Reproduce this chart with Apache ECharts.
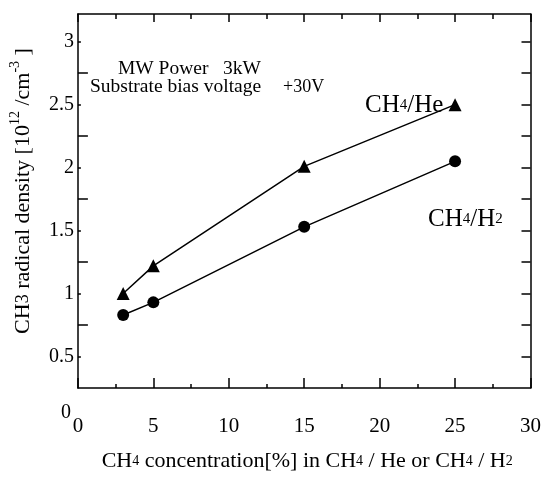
<!DOCTYPE html>
<html>
<head>
<meta charset="utf-8">
<script src="https://cdn.jsdelivr.net/npm/echarts@6/dist/echarts.min.js"></script>
<style>html,body{margin:0;padding:0;background:#fff;}#c{width:544px;height:477px;}</style>
</head>
<body>
<div id="c"></div>
<script>
const heX = [3, 5, 15, 25];
const heY = [1.0, 1.22, 2.01, 2.50];
const h2X = [3, 5, 15, 25];
const h2Y = [0.83, 0.93, 1.53, 2.05];
const yLabelValues = [0.5, 1, 1.5, 2, 2.5, 3];
const yLongTicks = [0.75, 1.25, 1.75, 2.25, 2.75];
const yRightTicks = [0.5, 0.75, 1, 1.25, 1.5, 1.75, 2, 2.25, 2.5, 2.75, 3];

const F = 'Liberation Serif, Times New Roman, serif';
const chart = echarts.init(document.getElementById('c'));
const black = '#000';
chart.setOption({
  backgroundColor: '#fff',
  animation: false,
  grid: { left: 77, right: 11, top: 14, bottom: 86 },
  xAxis: [{
    type: 'value', position: 'bottom', min: 0, max: 30, interval: 5,
    axisLine: { lineStyle: { color: black, width: 1.5 } },
    axisTick: { inside: true, length: 10, lineStyle: { color: black, width: 1.5 } },
    minorTick: { show: true, splitNumber: 2, length: 4, lineStyle: { color: black, width: 1.5 } },
    splitLine: { show: false },
    axisLabel: { margin: 28, fontSize: 21, color: black, fontFamily: F },
    name: 'CH{s|4} concentration[%] in CH{s|4} / He or CH{s|4} / H{s|2}',
    nameLocation: 'middle', nameGap: 62,
    nameTextStyle: { fontSize: 22, color: black, fontFamily: F, padding: [0, 0, 0, 6],
      rich: { s: { fontSize: 14, color: black, fontFamily: F } } }
  }, {
    type: 'value', position: 'top', min: 0, max: 30, interval: 5,
    axisLine: { lineStyle: { color: black, width: 1.5 } },
    axisTick: { inside: true, length: 8, lineStyle: { color: black, width: 1.5 } },
    minorTick: { show: true, splitNumber: 2, length: 5, lineStyle: { color: black, width: 1.5 } },
    splitLine: { show: false },
    axisLabel: { show: false }
  }],
  yAxis: [{
    type: 'value', position: 'left', min: 0.25, max: 3.22,
    axisLine: { show: true, lineStyle: { color: black, width: 1.5 } },
    axisTick: { show: true, inside: true, length: 3, customValues: yLabelValues, lineStyle: { color: black, width: 1.5 } },
    splitLine: { show: false },
    axisLabel: { customValues: yLabelValues, margin: 4, fontSize: 20, color: black, fontFamily: F },
    name: 'CH{b|3} radical density [10{p|12} /cm{p|-3} ]',
    nameLocation: 'middle', nameRotate: 90, nameGap: 25,
    nameTextStyle: { fontSize: 22, color: black, fontFamily: F, padding: [0, 0, 0, 20], lineHeight: 30,
      rich: {
        b: { fontSize: 18, color: black, fontFamily: F, lineHeight: 30 },
        p: { fontSize: 14, color: black, fontFamily: F, verticalAlign: 'top', lineHeight: 30 }
      } }
  }, {
    type: 'value', position: 'left', min: 0.25, max: 3.22,
    axisLine: { show: false },
    axisTick: { show: true, inside: true, length: 10, customValues: yLongTicks, lineStyle: { color: black, width: 1.5 } },
    splitLine: { show: false },
    axisLabel: { show: false }
  }, {
    type: 'value', position: 'right', min: 0.25, max: 3.22,
    axisLine: { show: true, lineStyle: { color: black, width: 1.5 } },
    axisTick: { show: true, inside: true, length: 9, customValues: yRightTicks, lineStyle: { color: black, width: 1.5 } },
    splitLine: { show: false },
    axisLabel: { show: false }
  }],
  graphic: [
    { type: 'text', left: 61, top: 403, style: { text: '0', fontSize: 20, fill: black, fontFamily: F } },
    { type: 'text', left: 118, top: 59, style: { text: 'MW Power   3kW', fontSize: 19.5, fill: black, fontFamily: F } },
    { type: 'text', left: 90, top: 77, style: { text: 'Substrate bias voltage', fontSize: 19.5, fill: black, fontFamily: F } },
    { type: 'text', left: 283, top: 78, style: { text: '+30V', fontSize: 18, fill: black, fontFamily: F } },
    { type: 'text', left: 365, top: 93, style: { text: 'CH{s|4}/He', fontSize: 25, fill: black, fontFamily: F,
      rich: { s: { fontSize: 15, fill: black, fontFamily: F } } } },
    { type: 'text', left: 428, top: 207, style: { text: 'CH{s|4}/H{s|2}', fontSize: 25, fill: black, fontFamily: F,
      rich: { s: { fontSize: 15, fill: black, fontFamily: F } } } }
  ],
  series: [{
    name: 'CH4/He', type: 'line', xAxisIndex: 0, yAxisIndex: 0,
    data: heX.map((x, i) => [x, heY[i]]),
    symbol: 'triangle', symbolSize: 13,
    lineStyle: { color: black, width: 1.5 }, itemStyle: { color: black }
  }, {
    name: 'CH4/H2', type: 'line', xAxisIndex: 0, yAxisIndex: 0,
    data: h2X.map((x, i) => [x, h2Y[i]]),
    symbol: 'circle', symbolSize: 12,
    lineStyle: { color: black, width: 1.5 }, itemStyle: { color: black }
  }]
});
</script>
</body>
</html>
